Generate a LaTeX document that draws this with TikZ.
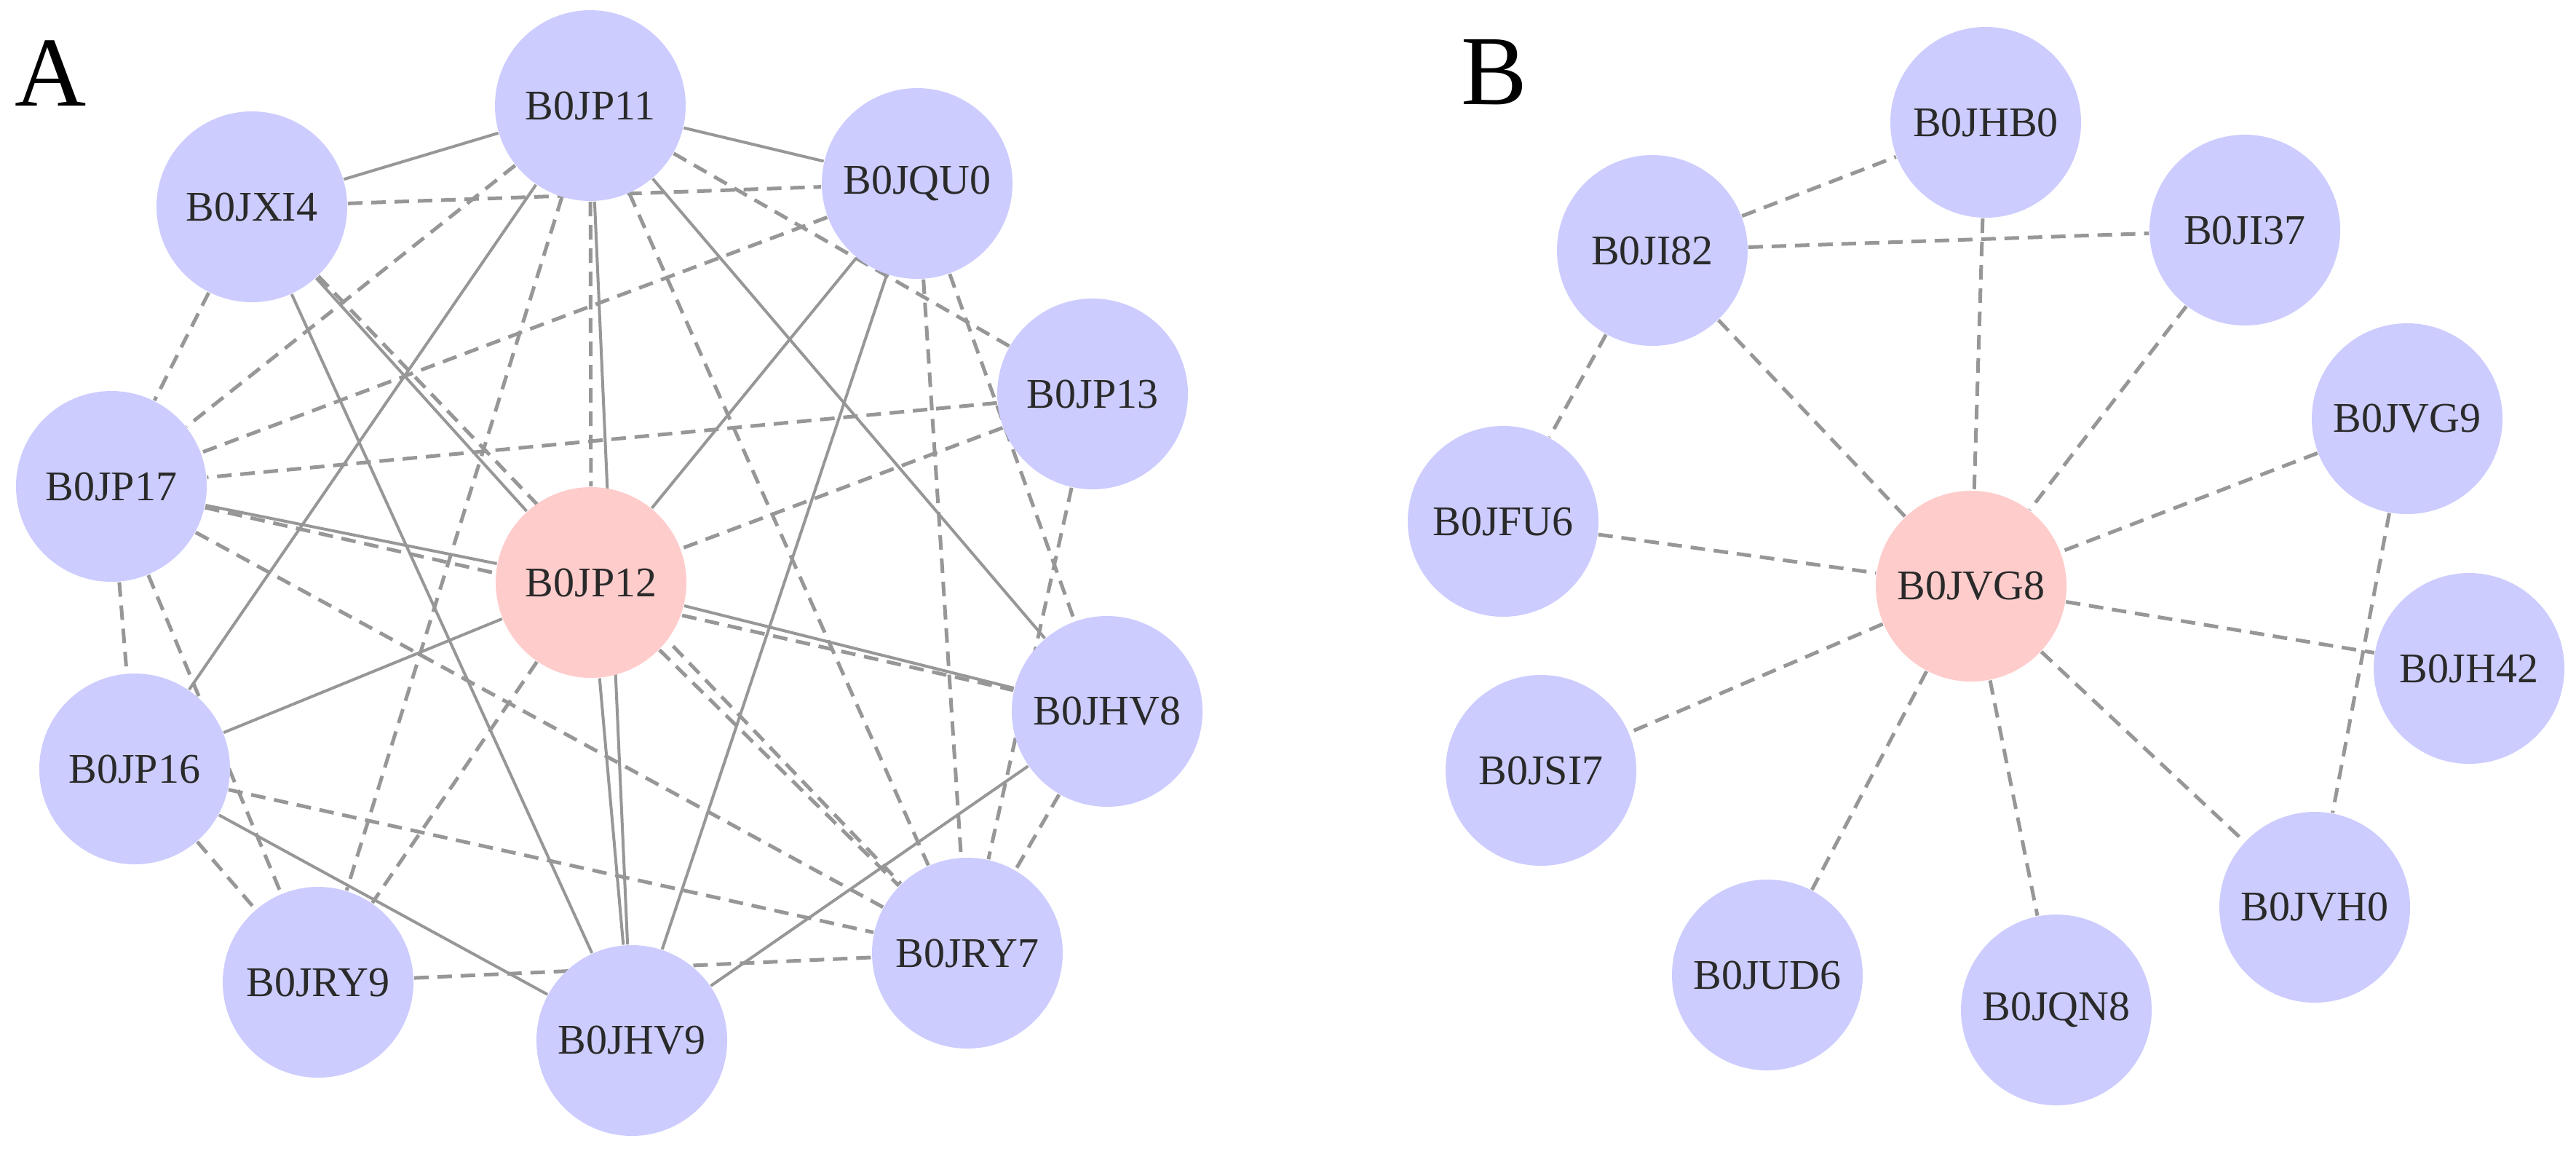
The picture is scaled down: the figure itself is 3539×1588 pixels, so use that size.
\documentclass[tikz,border=0pt]{standalone}
\usepackage{fontspec}
\setmainfont{Liberation Serif}
\usetikzlibrary{backgrounds}
\definecolor{nodeblue}{HTML}{CCCCFF}
\definecolor{nodepink}{HTML}{FFCCCC}
\definecolor{edgegray}{HTML}{979797}
\definecolor{txtcol}{HTML}{2A2A2A}
\tikzset{
  nd/.style={circle, minimum size=52.4pt, inner sep=0pt, text=txtcol,
    font=\fontsize{11.6}{13}\selectfont},
  bnode/.style={nd, fill=nodeblue},
  pnode/.style={nd, fill=nodepink},
  sline/.style={draw=edgegray, line width=0.8pt},
  dline/.style={draw=edgegray, line width=1pt, dash pattern=on 4pt off 2.4pt},
  panellabel/.style={anchor=base west, inner sep=0pt, font=\fontsize{27.2}{30}\selectfont}
}
\begin{document}
\begin{tikzpicture}[x=0.2pt, y=-0.2pt]
\useasboundingbox (0,0) rectangle (3539,1588);

% ---------- Panel A ----------
\node[panellabel] (labA) at (20,145) {A};
\node[bnode] (P11) at (811,145) {B0JP11};
\node[bnode] (XI4) at (346,284) {B0JXI4};
\node[bnode] (QU0) at (1260,252) {B0JQU0};
\node[bnode] (P13) at (1501,541) {B0JP13};
\node[bnode] (P17) at (153,668) {B0JP17};
\node[pnode] (P12) at (812,800) {B0JP12};
\node[bnode] (HV8) at (1521,977) {B0JHV8};
\node[bnode] (P16) at (185,1056) {B0JP16};
\node[bnode] (RY9) at (437,1349) {B0JRY9};
\node[bnode] (HV9) at (868,1429) {B0JHV9};
\node[bnode] (RY7) at (1329,1309) {B0JRY7};

% ---------- Panel B ----------
\node[panellabel] (labB) at (2006,143) {B};
\node[bnode] (JHB0) at (2728,168) {B0JHB0};
\node[bnode] (JI82) at (2270,344) {B0JI82};
\node[bnode] (JI37) at (3084,316) {B0JI37};
\node[bnode] (JVG9) at (3307,575) {B0JVG9};
\node[bnode] (JFU6) at (2065,716) {B0JFU6};
\node[pnode] (JVG8) at (2708,805) {B0JVG8};
\node[bnode] (JH42) at (3392,918) {B0JH42};
\node[bnode] (JSI7) at (2117,1058) {B0JSI7};
\node[bnode] (JUD6) at (2428,1339) {B0JUD6};
\node[bnode] (JQN8) at (2825,1387) {B0JQN8};
\node[bnode] (JVH0) at (3180,1246) {B0JVH0};

\begin{scope}[on background layer]
% panel A solid edges
\draw[sline] (XI4) -- (P11);
\draw[sline] (P11) -- (QU0);
\draw[sline] (P11) -- (HV9);
\draw[sline] (P11) -- (HV8);
\draw[sline] (P11) -- (P16);
\draw[sline] (XI4) -- (HV9);
\draw[sline] (XI4) -- (P12);
\draw[sline] (QU0) -- (P12);
\draw[sline] (QU0) -- (HV9);
\draw[sline] (P17) -- (P12);
\draw[sline] (P12) -- (HV8);
\draw[sline] (P12) -- (HV9);
\draw[sline] (P16) -- (P12);
\draw[sline] (P16) -- (HV9);
\draw[sline] (HV9) -- (HV8);
% panel A dashed edges
\draw[dline] (P11) -- (P12);
\draw[dline] (P11) -- (P17);
\draw[dline] (P11) -- (RY9);
\draw[dline] (P11) -- (RY7);
\draw[dline] (P11) -- (P13);
\draw[dline] (XI4) -- (QU0);
\draw[dline] (XI4) -- (P17);
\draw[dline] (XI4) -- (RY7);
\draw[dline] (QU0) -- (P17);
\draw[dline] (QU0) -- (RY7);
\draw[dline] (QU0) -- (HV8);
\draw[dline] (P13) -- (P17);
\draw[dline] (P13) -- (P12);
\draw[dline] (P13) -- (RY7);
\draw[dline] (P17) -- (HV8);
\draw[dline] (P17) -- (RY7);
\draw[dline] (P17) -- (P16);
\draw[dline] (P17) -- (RY9);
\draw[dline] (P16) -- (RY9);
\draw[dline] (P16) -- (RY7);
\draw[dline] (P12) -- (RY9);
\draw[dline] (P12) -- (RY7);
\draw[dline] (HV8) -- (RY7);
\draw[dline] (RY9) -- (RY7);
% panel B dashed edges
\draw[dline] (JI82) -- (JHB0);
\draw[dline] (JI82) -- (JI37);
\draw[dline] (JHB0) -- (JVG8);
\draw[dline] (JI82) -- (JVG8);
\draw[dline] (JI37) -- (JVG8);
\draw[dline] (JI82) -- (JFU6);
\draw[dline] (JFU6) -- (JVG8);
\draw[dline] (JVG9) -- (JVG8);
\draw[dline] (JVG9) -- (JVH0);
\draw[dline] (JVG8) -- (JH42);
\draw[dline] (JVG8) -- (JSI7);
\draw[dline] (JVG8) -- (JUD6);
\draw[dline] (JVG8) -- (JQN8);
\draw[dline] (JVG8) -- (JVH0);
\end{scope}
\end{tikzpicture}
\end{document}
